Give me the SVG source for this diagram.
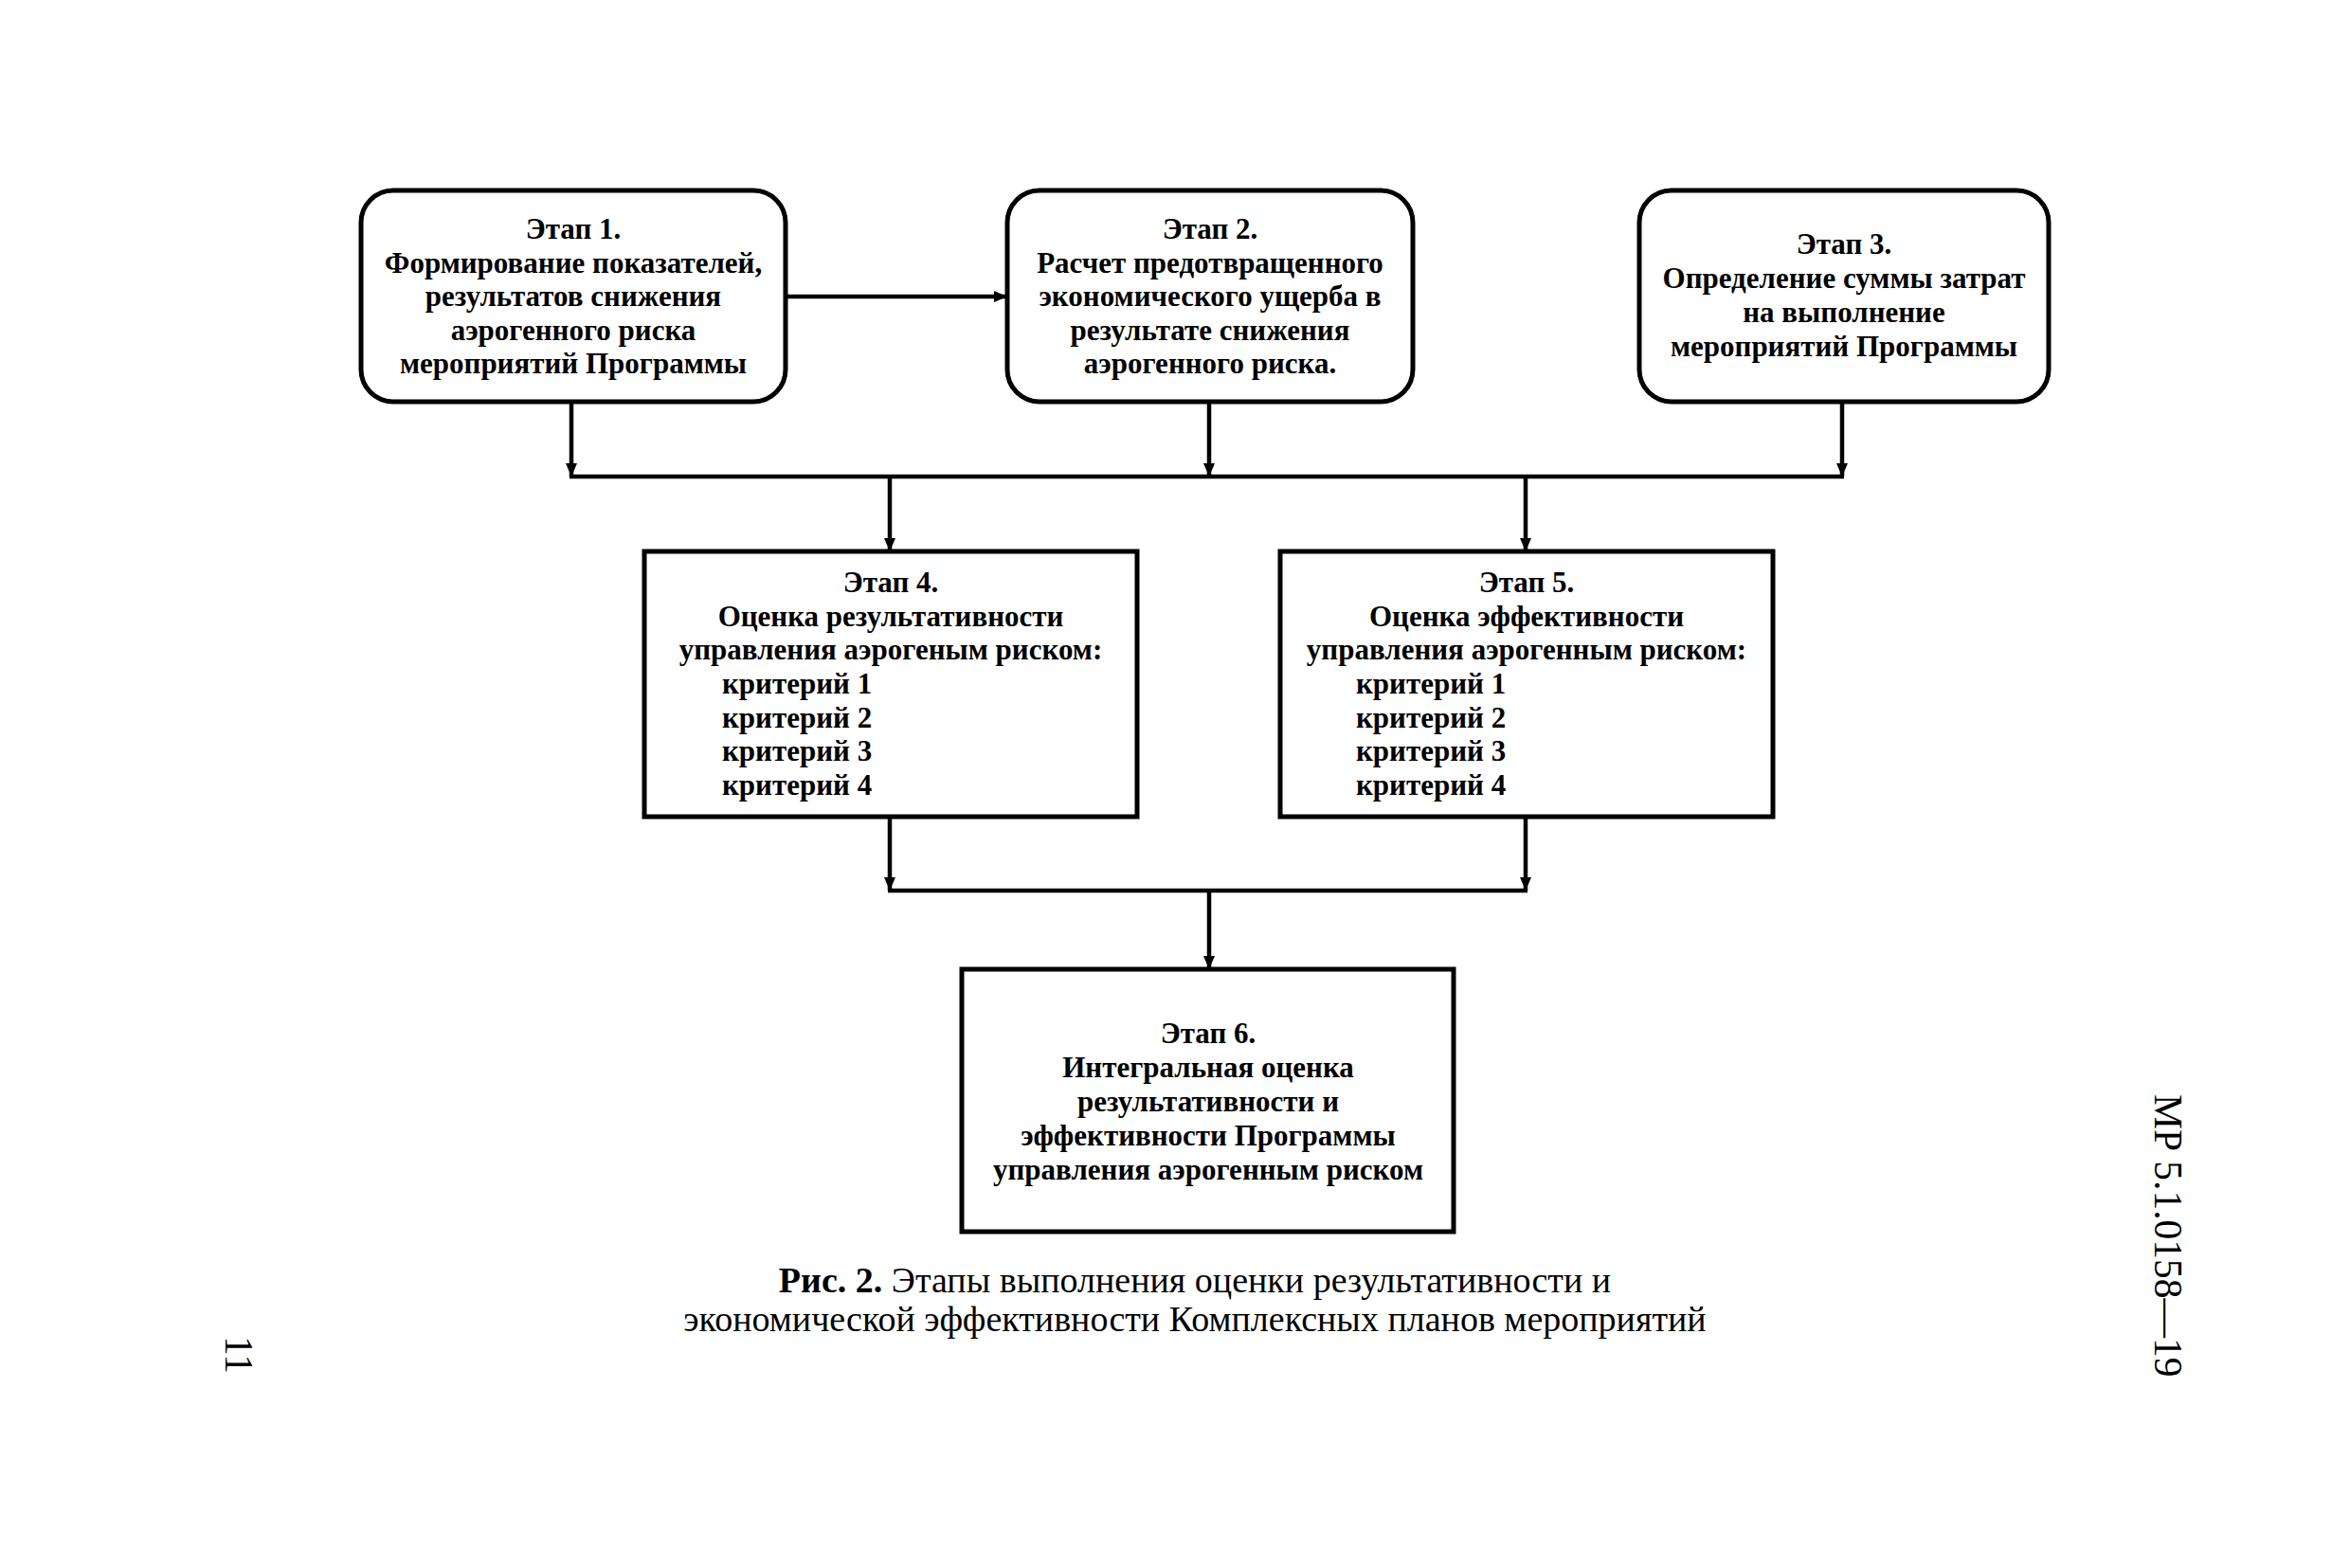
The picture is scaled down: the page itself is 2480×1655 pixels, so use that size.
<svg xmlns="http://www.w3.org/2000/svg" width="2480" height="1655" viewBox="0 0 2480 1655">
<style>
.box{fill:#fff;stroke:#000;stroke-width:5}
.t{font-family:"Liberation Serif","Times New Roman",serif;font-weight:bold;font-size:31px;fill:#000}
.c{text-anchor:middle}
.cap{font-family:"Liberation Serif","Times New Roman",serif;font-size:38px;fill:#000;text-anchor:middle}
.side{font-family:"Liberation Serif","Times New Roman",serif;font-size:41.5px;fill:#000}
.ln{fill:none;stroke:#000;stroke-width:4.5}
</style>
<defs>
<marker id="ah" markerUnits="userSpaceOnUse" markerWidth="16" markerHeight="14" refX="14" refY="7" orient="auto">
<path d="M0,1 L14,7 L0,13 Z" fill="#000"/>
</marker>
</defs>
<rect width="2480" height="1655" fill="#fff"/>
<g id="connectors">
<line class="ln" x1="829" y1="313" x2="1063" y2="313" marker-end="url(#ah)"/>
<line class="ln" x1="603" y1="424" x2="603" y2="503" marker-end="url(#ah)"/>
<line class="ln" x1="1276" y1="424" x2="1276" y2="503" marker-end="url(#ah)"/>
<line class="ln" x1="1944" y1="424" x2="1944" y2="503" marker-end="url(#ah)"/>
<line class="ln" x1="601" y1="503" x2="1946" y2="503"/>
<line class="ln" x1="939" y1="503" x2="939" y2="582" marker-end="url(#ah)"/>
<line class="ln" x1="1610" y1="503" x2="1610" y2="582" marker-end="url(#ah)"/>
<line class="ln" x1="939" y1="862" x2="939" y2="940" marker-end="url(#ah)"/>
<line class="ln" x1="1610" y1="862" x2="1610" y2="940" marker-end="url(#ah)"/>
<line class="ln" x1="937" y1="940" x2="1612" y2="940"/>
<line class="ln" x1="1276" y1="940" x2="1276" y2="1023" marker-end="url(#ah)"/>
</g>
<g id="stage1">
<rect class="box" x="381" y="201" width="448" height="223" rx="34"/>
<text class="t c" x="605" y="252">Этап 1.</text>
<text class="t c" x="605" y="288">Формирование показателей,</text>
<text class="t c" x="605" y="323">результатов снижения</text>
<text class="t c" x="605" y="359">аэрогенного риска</text>
<text class="t c" x="605" y="394">мероприятий Программы</text>
</g>
<g id="stage2">
<rect class="box" x="1063" y="201" width="428" height="223" rx="34"/>
<text class="t c" x="1277" y="252">Этап 2.</text>
<text class="t c" x="1277" y="288">Расчет предотвращенного</text>
<text class="t c" x="1277" y="323">экономического ущерба в</text>
<text class="t c" x="1277" y="359">результате снижения</text>
<text class="t c" x="1277" y="394">аэрогенного риска.</text>
</g>
<g id="stage3">
<rect class="box" x="1730" y="201" width="432" height="223" rx="34"/>
<text class="t c" x="1946" y="268">Этап 3.</text>
<text class="t c" x="1946" y="304">Определение суммы затрат</text>
<text class="t c" x="1946" y="340">на выполнение</text>
<text class="t c" x="1946" y="376">мероприятий Программы</text>
</g>
<g id="stage4">
<rect class="box" x="680" y="582" width="520" height="280"/>
<text class="t c" x="940" y="625">Этап 4.</text>
<text class="t c" x="940" y="661">Оценка результативности</text>
<text class="t c" x="940" y="696">управления аэрогеным риском:</text>
<text class="t" x="762" y="732">критерий 1</text>
<text class="t" x="762" y="768">критерий 2</text>
<text class="t" x="762" y="803">критерий 3</text>
<text class="t" x="762" y="839">критерий 4</text>
</g>
<g id="stage5">
<rect class="box" x="1351" y="582" width="520" height="280"/>
<text class="t c" x="1611" y="625">Этап 5.</text>
<text class="t c" x="1611" y="661">Оценка эффективности</text>
<text class="t c" x="1611" y="696">управления аэрогенным риском:</text>
<text class="t" x="1431" y="732">критерий 1</text>
<text class="t" x="1431" y="768">критерий 2</text>
<text class="t" x="1431" y="803">критерий 3</text>
<text class="t" x="1431" y="839">критерий 4</text>
</g>
<g id="stage6">
<rect class="box" x="1015" y="1023" width="519" height="277"/>
<text class="t c" x="1275" y="1101">Этап 6.</text>
<text class="t c" x="1275" y="1137">Интегральная оценка</text>
<text class="t c" x="1275" y="1173">результативности и</text>
<text class="t c" x="1275" y="1209">эффективности Программы</text>
<text class="t c" x="1275" y="1245">управления аэрогенным риском</text>
</g>
<g id="caption">
<text class="cap" x="1261" y="1364"><tspan font-weight="bold">Рис. 2.</tspan> Этапы выполнения оценки результативности и</text>
<text class="cap" x="1261" y="1405">экономической эффективности Комплексных планов мероприятий</text>
</g>
<g id="page">
<text class="side" transform="translate(2274,1155) rotate(90)">МР 5.1.0158—19</text>
<text class="side" transform="translate(238,1410) rotate(90)">11</text>
</g>
</svg>
